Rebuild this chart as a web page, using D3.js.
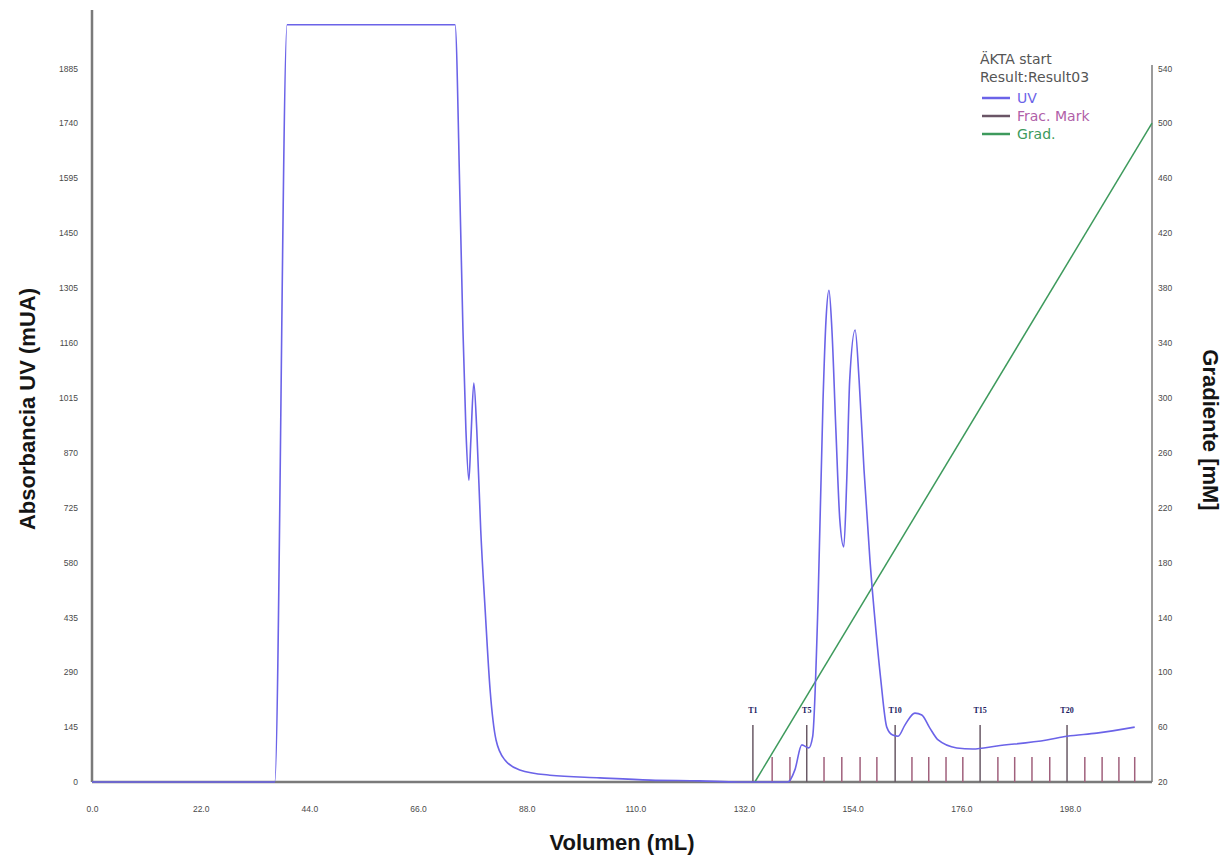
<!DOCTYPE html>
<html>
<head>
<meta charset="utf-8">
<script src="https://cdn.jsdelivr.net/npm/d3@7"></script>
<style>
  body { margin: 0; background: #fff; }
  #chart { width: 1231px; height: 860px; }
</style>
</head>
<body>
<div id="chart"></div>
<script>
const svgWidth = 1231;
const svgHeight = 860;

// UV trace: volume (mL) / absorbance (mUA)
const uvVolume = [0, 37.0, 39.5, 73.5, 74.5, 75.1, 75.7, 76.3, 76.7, 77.3, 77.9, 78.7, 79.6, 80.6, 81.8, 83.6, 86.6, 92.7, 102.8, 113, 123, 131,
  140.9, 142.3, 143.7, 145.1, 145.9, 147.0, 148.0, 148.6, 149.2, 149.8, 150.6, 151.4, 152.2, 152.8, 153.4, 154.5, 155.3, 156.3, 157.5, 158.7,
  159.7, 160.9, 162.1, 163.2, 164.6, 166.6, 168.0, 169.6, 171.3, 175.1, 178.3, 183.2, 193.3, 197.4, 203.4, 211.1];
const uvValue = [0, 0, 2000, 2000, 1537, 1194, 930, 797, 903, 1054, 930, 665, 454, 243, 111, 58, 32, 18, 11, 5, 3, 0,
  0, 32, 98, 90, 120, 481, 1009, 1220, 1299, 1194, 930, 692, 621, 797, 1062, 1194, 1062, 824, 586, 401,
  269, 145, 124, 121, 151, 182, 177, 143, 111, 90, 87, 95, 111, 121, 129, 145];

// gradient (mM)
const gradVolume = [134.2, 214.6];
const gradValue = [20, 500];

// fraction marks
const fracVolume = [133.8, 137.7, 141.3, 144.7, 148.2, 151.8, 155.5, 158.9, 162.6, 166.0, 169.4, 172.9, 176.3, 179.8,
  183.4, 186.8, 190.3, 193.9, 197.4, 201.0, 204.5, 207.9, 211.1];
const fracLabel = ["T1", "", "", "T5", "", "", "", "", "T10", "", "", "", "", "T15", "", "", "", "", "T20", "", "", "", ""];

const xTicks = [0, 22, 44, 66, 88, 110, 132, 154, 176, 198];
const yTicks = [0, 145, 290, 435, 580, 725, 870, 1015, 1160, 1305, 1450, 1595, 1740, 1885];
const gradTicks = [20, 60, 100, 140, 180, 220, 260, 300, 340, 380, 420, 460, 500, 540];

const legendLines = [
  { label: "UV", line: "#6b63e8", text: "#6b63e8" },
  { label: "Frac.  Mark", line: "#6a5566", text: "#b060a8" },
  { label: "Grad.", line: "#3d9a5c", text: "#3d9a5c" }
];

const uvColor = "#6b63e8";
const gradColor = "#3d9a5c";
const axisColor = "#7a7a7a";

const svg = d3.select("#chart")
  .append("svg")
  .attr("width", svgWidth)
  .attr("height", svgHeight)
  .style("font-family", "'DejaVu Sans', sans-serif");

const x = d3.scaleLinear().domain([0, 214.6]).range([92, 1152]);
const y = d3.scaleLinear().domain([0, 2039]).range([782, 10]);
const yGrad = d3.scaleLinear().domain([20, 540]).range([y(0), y(1885)]);

// Axes
const xAxis = svg.append("g")
  .attr("transform", `translate(0, ${y(0)})`)
  .call(d3.axisBottom(x).tickValues(xTicks).tickFormat(d3.format(".1f")).tickSize(0).tickPadding(24));

const yAxis = svg.append("g")
  .attr("transform", `translate(${x(0)}, 0)`)
  .call(d3.axisLeft(y).tickValues(yTicks).tickFormat(d3.format("d")).tickSize(0).tickPadding(14));

const gAxis = svg.append("g")
  .attr("transform", `translate(${x(214.6)}, 0)`)
  .call(d3.axisRight(yGrad).tickValues(gradTicks).tickFormat(d3.format("d")).tickSize(0).tickPadding(6));

[xAxis, yAxis, gAxis].forEach(g => {
  g.selectAll("text").attr("fill", "#4a4a4a").style("font-size", "8.5px");
  g.selectAll("line").attr("stroke", axisColor);
});
xAxis.select(".domain").attr("stroke", axisColor).attr("stroke-width", 2.5)
  .attr("d", `M${x(0)},0H${x(214.6)}`);
yAxis.select(".domain").attr("stroke", axisColor).attr("stroke-width", 2.5)
  .attr("d", `M0,${y(0)}V${y(2039)}`);
gAxis.select(".domain").attr("stroke", axisColor).attr("stroke-width", 1.5)
  .attr("d", `M0,${y(0)}V65`);

// Fraction marks
const fracData = fracVolume.map((v, i) => ({ v, label: fracLabel[i] }));
svg.append("g").selectAll("line")
  .data(fracData)
  .join("line")
  .attr("x1", d => x(d.v)).attr("x2", d => x(d.v))
  .attr("y1", y(0))
  .attr("y2", d => d.label ? y(0) - 57 : y(0) - 25)
  .attr("stroke", d => d.label ? "#6a5a66" : "#a0607c")
  .attr("stroke-width", 1.5);

svg.append("g").selectAll("text")
  .data(fracData.filter(d => d.label))
  .join("text")
  .attr("x", d => x(d.v))
  .attr("y", y(0) - 69)
  .attr("text-anchor", "middle")
  .attr("fill", "#1a1a60")
  .style("font-family", "'Liberation Serif', serif")
  .style("font-size", "8px")
  .style("font-weight", "bold")
  .text(d => d.label);

// Gradient line
const gradData = gradVolume.map((v, i) => ({ v, g: gradValue[i] }));
svg.append("path")
  .datum(gradData)
  .attr("fill", "none")
  .attr("stroke", gradColor)
  .attr("stroke-width", 1.5)
  .attr("d", d3.line().x(d => x(d.v)).y(d => yGrad(d.g)));

// UV line
const uvData = uvVolume.map((v, i) => ({ v, a: uvValue[i] }));
svg.append("path")
  .datum(uvData)
  .attr("fill", "none")
  .attr("stroke", uvColor)
  .attr("stroke-width", 1.6)
  .attr("d", d3.line().x(d => x(d.v)).y(d => y(d.a)).curve(d3.curveMonotoneX));

// Axis titles
svg.append("text")
  .attr("transform", `translate(35, 409) rotate(-90)`)
  .attr("text-anchor", "middle")
  .style("font-family", "'Liberation Sans', Arial, sans-serif")
  .style("font-size", "22px")
  .style("font-weight", "bold")
  .attr("fill", "#151515")
  .text("Absorbancia UV (mUA)");

svg.append("text")
  .attr("x", 622)
  .attr("y", 850)
  .attr("text-anchor", "middle")
  .style("font-family", "'Liberation Sans', Arial, sans-serif")
  .style("font-size", "22px")
  .style("font-weight", "bold")
  .attr("fill", "#151515")
  .text("Volumen (mL)");

svg.append("text")
  .attr("transform", `translate(1203, 430) rotate(90)`)
  .attr("text-anchor", "middle")
  .style("font-family", "'Liberation Sans', Arial, sans-serif")
  .style("font-size", "22px")
  .style("font-weight", "bold")
  .attr("fill", "#151515")
  .text("Gradiente [mM]");

// Legend
const legendGroup = svg.append("g").attr("transform", "translate(980, 0)");
legendGroup.append("text").attr("x", 0).attr("y", 64)
  .attr("fill", "#555").style("font-size", "14px").text("ÄKTA  start");
legendGroup.append("text").attr("x", 0).attr("y", 82)
  .attr("fill", "#555").style("font-size", "14px").text("Result:Result03");

legendLines.forEach((d, i) => {
  const yy = 98 + i * 18;
  legendGroup.append("line")
    .attr("x1", 2).attr("x2", 30).attr("y1", yy).attr("y2", yy)
    .attr("stroke", d.line).attr("stroke-width", 2.5);
  legendGroup.append("text")
    .attr("x", 37).attr("y", yy + 5)
    .attr("fill", d.text).style("font-size", "14px")
    .text(d.label);
});
</script>
</body>
</html>
